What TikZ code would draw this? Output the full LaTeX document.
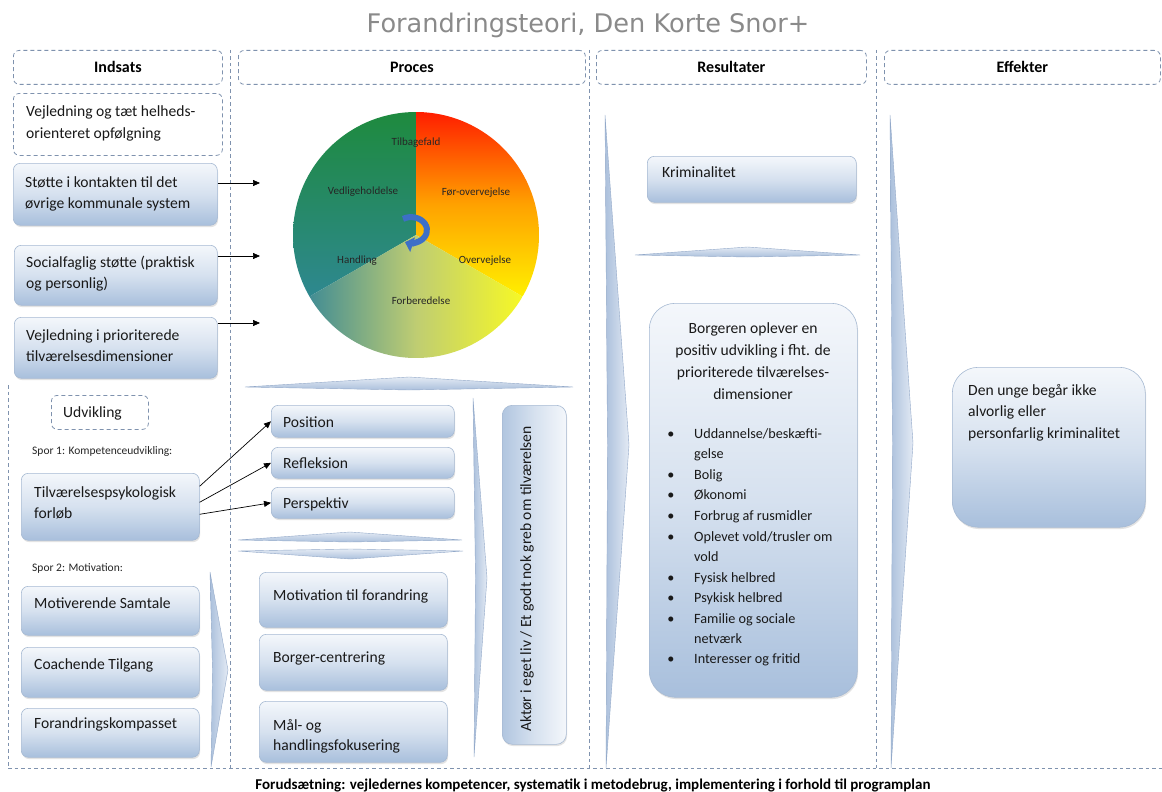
\documentclass[tikz,border=0pt]{standalone}
\usepackage{fontspec}
\setmainfont{Carlito}
\newfontfamily\titlefont{DejaVu Sans}
\usetikzlibrary{shadows,arrows.meta,calc}

\definecolor{boxtop}{HTML}{F4F7FB}
\definecolor{boxmid}{HTML}{D6E1EF}
\definecolor{boxbot}{HTML}{A8BFDC}
\definecolor{boxedge}{HTML}{A7BAD3}
\definecolor{dashc}{HTML}{7F92AE}
\definecolor{chevA}{HTML}{E3EAF4}
\definecolor{chevB}{HTML}{ABC0DC}
\definecolor{chevE}{HTML}{93A9C9}
\definecolor{titlec}{HTML}{8A8A8A}
\definecolor{pgreen}{HTML}{1E8A3E}
\definecolor{pteal}{HTML}{2E8890}
\definecolor{pred}{HTML}{FF1E00}
\definecolor{porange}{HTML}{FFA200}
\definecolor{pyellow}{HTML}{FFF000}
\definecolor{pteal2}{HTML}{2F8399}
\definecolor{polive}{HTML}{BFCD72}
\definecolor{pyellow2}{HTML}{FFFF1A}
\definecolor{arrblue}{HTML}{3D6FC7}

\newcommand\mkbox[6]{\node[#1,minimum width={(#5-#3)*1pt},minimum height={(#6-#4)*1pt},anchor=north west] (#2) at (#3,#4) {};}
% vertical chevron: x0, top, tipx, mid, bottom
\newcommand\vchev[5]{\shade[left color=chevB, right color=chevA, draw=chevE, line width=0.4pt] (#1,#2) -- (#3,#4) -- (#1+1,#5) -- (#1+2.5,#4) -- cycle;}
% flat chevron: x0, x1, yend, ymid-top, ymid-bottom
\newcommand\fchev[5]{\shade[top color=chevA, bottom color=chevB, draw=chevE, line width=0.4pt] (#1,#3) -- ({(#1+#2)/2},#4) -- (#2,#3) -- ({(#1+#2)/2},#5) -- cycle;}

\begin{document}
\begin{tikzpicture}[x=1pt,y=-1pt,
  bbox/.style={draw=boxedge, line width=0.6pt, rounded corners=7pt, top color=boxtop, bottom color=boxbot, middle color=boxmid, inner sep=0pt, drop shadow={opacity=0.22, shadow xshift=0.8pt, shadow yshift=-1.8pt}},
  bigbox/.style={bbox, rounded corners=26pt},
  abox/.style={draw=boxedge, line width=0.6pt, rounded corners=10pt, left color=boxbot!90, right color=boxtop, middle color=boxmid, inner sep=0pt, drop shadow={opacity=0.22, shadow xshift=0.8pt, shadow yshift=-1.8pt}},
  dbox/.style={draw=dashc, dash pattern=on 4pt off 3pt, line width=0.8pt, rounded corners=6pt, fill=white, inner sep=0pt},
  vline/.style={draw=dashc, dash pattern=on 3.5pt off 3pt, line width=0.7pt},
  txt/.style={font=\fontsize{15.6}{21}\selectfont, align=left, inner sep=0pt, text=black!90},
  ctxt/.style={txt, align=center, font=\fontsize{15.6}{22}\selectfont},
  btxt/.style={txt, font=\fontsize{14.2}{20.4}\selectfont},
  smalltxt/.style={inner sep=0pt, font=\fontsize{11.5}{13}\selectfont, text=black!85},
  pielab/.style={inner sep=0pt, font=\fontsize{11}{13}\selectfont, text=black!85},
  hdr/.style={font=\fontsize{16}{18}\selectfont\bfseries, inner sep=0pt},
  conn/.style={-{Triangle[length=7pt,width=6pt]}, line width=0.7pt, draw=black}
]
\useasboundingbox (0,0) rectangle (1162,792);
\fill[white] (0,0) rectangle (1162,792);

% title
\node[font=\titlefont\fontsize{25.6}{28}\selectfont, text=titlec, anchor=base, inner sep=0pt] (title) at (588,33) {Forandringsteori, Den Korte Snor+};

% column separators
\draw[vline] (230,50) -- (230,768);
\draw[vline] (589,50) -- (589,768);
\draw[vline] (876,50) -- (876,768);
\draw[vline] (8,385) -- (8,768);
\draw[vline] (8,768) -- (1162,768);

% headers
\mkbox{dbox}{h1}{13}{50}{222}{84}
\mkbox{dbox}{h2}{238}{50}{585}{84}
\mkbox{dbox}{h3}{596}{50}{866}{84}
\mkbox{dbox}{h4}{884}{50}{1160}{84}
\node[hdr] (h1t) at (h1.center) {Indsats};
\node[hdr] (h2t) at (h2.center) {Proces};
\node[hdr] (h3t) at (h3.center) {Resultater};
\node[hdr] (h4t) at (h4.center) {Effekter};

% ---------- Indsats ----------
\mkbox{dbox}{b1}{13}{93}{222}{155}
\mkbox{bbox}{b2}{13}{163}{217}{225}
\mkbox{bbox}{b3}{14}{245}{217}{305}
\mkbox{bbox}{b4}{14}{317}{217}{378}
\mkbox{dbox}{b5}{51}{395}{148}{429}
\mkbox{bbox}{b7}{21}{473}{199}{540}
\mkbox{bbox}{b9}{21}{586}{199}{635}
\mkbox{bbox}{b10}{21}{647}{199}{697}
\mkbox{bbox}{b11}{21}{708}{199}{757}

% multi-line nodes: base = baseline of last line
\node[txt, anchor=base west] (t1) at (26,138) {Vejledning og tæt helheds-\\orienteret opfølgning};
\node[txt, anchor=base west] (t2) at (25,208) {Støtte i kontakten til det\\øvrige kommunale system};
\node[txt, anchor=base west] (t3) at (26,288) {Socialfaglig støtte (praktisk\\og personlig)};
\node[txt, anchor=base west] (t4) at (26,361) {Vejledning i prioriterede\\tilværelsesdimensioner};
\node[txt, anchor=base west] (t5) at (63,417) {Udvikling};
\node[smalltxt, anchor=base west] (t6) at (32,454) {Spor 1: Kompetenceudvikling:};
\node[txt, anchor=base west] (t7) at (34,518) {Tilværelsespsykologisk\\forløb};
\node[smalltxt, anchor=base west] (t8) at (32,571) {Spor 2: Motivation:};
\node[txt, anchor=base west] (t9) at (34,608) {Motiverende Samtale};
\node[txt, anchor=base west] (t10) at (34,669) {Coachende Tilgang};
\node[txt, anchor=base west] (t11) at (34,728) {Forandringskompasset};

\vchev{210}{572}{228}{670}{767}

% ---------- Proces: pie ----------
\begin{scope}[shift={(416,235)}, y=1pt]
  \def\R{123}
  \begin{scope}
    \clip (0,0) -- (90:\R) arc[start angle=90,end angle=210,radius=\R] -- cycle;
    \shade[top color=pgreen, bottom color=pteal] (-\R,-62) rectangle (0,\R);
  \end{scope}
  \begin{scope}
    \clip (0,0) -- (-30:\R) arc[start angle=-30,end angle=90,radius=\R] -- cycle;
    \shade[top color=pred, bottom color=pyellow, middle color=porange] (0,-62) rectangle (\R,\R);
  \end{scope}
  \begin{scope}
    \clip (0,0) -- (210:\R) arc[start angle=210,end angle=330,radius=\R] -- cycle;
    \shade[left color=pteal2, right color=pyellow2, middle color=polive] (-\R,-\R) rectangle (\R,0);
  \end{scope}
  \draw[arrblue, line width=6pt, -{Triangle[length=8pt,width=15pt]}] (-6,4) ++(120:14) arc[start angle=120,end angle=-112,x radius=16,y radius=13];
\end{scope}

\node[pielab, anchor=base] (p1) at (416,145) {Tilbagefald};
\node[pielab, anchor=base] (p2) at (363,194) {Vedligeholdelse};
\node[pielab, anchor=base] (p3) at (476,195) {Før-overvejelse};
\node[pielab, anchor=base] (p4) at (357,263) {Handling};
\node[pielab, anchor=base] (p5) at (485,263) {Overvejelse};
\node[pielab, anchor=base] (p6) at (421,304) {Forberedelse};

% arrows Indsats -> pie
\coordinate (e1) at (260,183);
\coordinate (e2) at (260,256);
\coordinate (e3) at (260,323);
\draw[conn] (b2.east |- e1) -- (e1);
\draw[conn] (b3.east |- e2) -- (e2);
\draw[conn] (b4.east |- e3) -- (e3);

% flat chevrons
\fchev{245}{573}{387}{377}{390}
\fchev{238}{462}{540}{532}{542}
\fchev{238}{463}{551}{549}{559}

% process boxes
\mkbox{bbox}{q1}{271}{405}{454}{437}
\mkbox{bbox}{q2}{271}{447}{454}{478}
\mkbox{bbox}{q3}{271}{487}{454}{518}
\mkbox{bbox}{q4}{259}{572}{447}{627}
\mkbox{bbox}{q5}{259}{634}{447}{690}
\mkbox{bbox}{q6}{259}{701}{447}{762}
\node[txt, anchor=base west] (t12) at (283,427) {Position};
\node[txt, anchor=base west] (t13) at (283,468) {Refleksion};
\node[txt, anchor=base west] (t14) at (283,508) {Perspektiv};
\node[txt, anchor=base west] (t15) at (273,600) {Motivation til forandring};
\node[txt, anchor=base west] (t16) at (273,662) {Borger-centrering};
\node[txt, anchor=base west, font=\fontsize{15.6}{20}\selectfont] (t17) at (273,750) {Mål- og\\handlingsfokusering};

\draw[conn] ($(b7.east)+(0,-20.5)$) -- (q1.west);
\draw[conn] ($(b7.east)+(0,-4.5)$) -- (q2.west);
\draw[conn] ($(b7.east)+(0,7.5)$) -- (q3.west);

\vchev{473}{398}{487}{578}{757}
\mkbox{abox}{q7}{502}{405}{566}{744}
\node[txt, rotate=90] (t18) at (527,579) {Aktør i eget liv / Et godt nok greb om tilværelsen};

% ---------- Resultater ----------
\vchev{605}{115}{629}{445}{768}
\mkbox{bbox}{r1}{647}{156}{856}{202}
\node[txt, anchor=base west] (t19) at (662,177) {Kriminalitet};
\fchev{635}{860}{255}{247}{257}
\mkbox{bigbox}{r2}{649}{303}{857}{697}
\node[ctxt, anchor=base] (t20) at (753,399) {Borgeren oplever en\\positiv udvikling i fht. de\\prioriterede tilværelses-\\dimensioner};

\node[btxt, anchor=base] (d1) at (671,438) {•};
\node[btxt, anchor=base west] (u1) at (694,458.4) {Uddannelse/beskæfti-\\gelse};
\node[btxt, anchor=base] (d2) at (671,479) {•};
\node[btxt, anchor=base west] (u2) at (694,479) {Bolig};
\node[btxt, anchor=base] (d3) at (671,499) {•};
\node[btxt, anchor=base west] (u3) at (694,499) {Økonomi};
\node[btxt, anchor=base] (d4) at (671,520) {•};
\node[btxt, anchor=base west] (u4) at (694,520) {Forbrug af rusmidler};
\node[btxt, anchor=base] (d5) at (671,541) {•};
\node[btxt, anchor=base west] (u5) at (694,561.4) {Oplevet vold/trusler om\\vold};
\node[btxt, anchor=base] (d6) at (671,582) {•};
\node[btxt, anchor=base west] (u6) at (694,582) {Fysisk helbred};
\node[btxt, anchor=base] (d7) at (671,602) {•};
\node[btxt, anchor=base west] (u7) at (694,602) {Psykisk helbred};
\node[btxt, anchor=base] (d8) at (671,623) {•};
\node[btxt, anchor=base west] (u8) at (694,643.4) {Familie og sociale\\netværk};
\node[btxt, anchor=base] (d9) at (671,663) {•};
\node[btxt, anchor=base west] (u9) at (694,663) {Interesser og fritid};

% ---------- Effekter ----------
\vchev{890}{115}{913}{443}{768}
\mkbox{bigbox}{f1}{952}{367}{1145}{527}
\node[txt, anchor=base west, font=\fontsize{15.6}{21.5}\selectfont] (t21) at (968,438) {Den unge begår ikke\\alvorlig eller\\personfarlig kriminalitet};

% footer
\node[font=\fontsize{15}{18}\selectfont\bfseries, anchor=base, inner sep=0pt] (foot) at (593,789) {Forudsætning: vejledernes kompetencer, systematik i metodebrug, implementering i forhold til programplan};
\end{tikzpicture}
\end{document}
